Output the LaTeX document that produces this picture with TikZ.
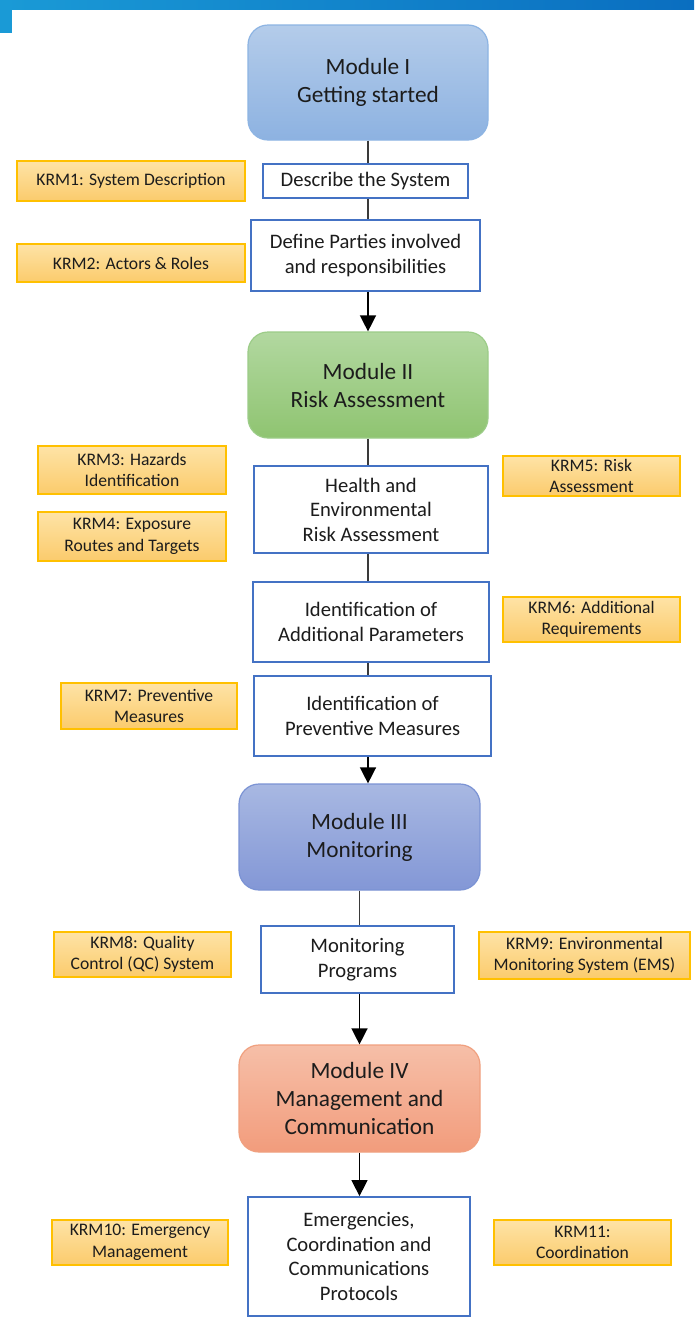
\documentclass[tikz,border=0pt]{standalone}
\usepackage{fontspec}
\setmainfont{Carlito}
\usetikzlibrary{arrows.meta}
\definecolor{barleft}{HTML}{1A9AD6}
\definecolor{barright}{HTML}{0A6EC0}
\definecolor{boxblue}{HTML}{4472C4}
\definecolor{krmedge}{HTML}{FFC000}
\definecolor{krmtop}{HTML}{FEE3A6}
\definecolor{krmbot}{HTML}{FBCB6C}
\definecolor{linkgray}{HTML}{3A3A3A}
\definecolor{inktext}{HTML}{1C1C1C}
\definecolor{mAtop}{HTML}{B4CCEA}
\definecolor{mAbot}{HTML}{8DB2E1}
\definecolor{mAedge}{HTML}{8DB4E3}
\definecolor{mBtop}{HTML}{B2D8A0}
\definecolor{mBbot}{HTML}{8FC471}
\definecolor{mBedge}{HTML}{9CCC88}
\definecolor{mCtop}{HTML}{A8B8E2}
\definecolor{mCbot}{HTML}{8397D6}
\definecolor{mCedge}{HTML}{7B93D4}
\definecolor{mDtop}{HTML}{F6BFA8}
\definecolor{mDbot}{HTML}{F29C7C}
\definecolor{mDedge}{HTML}{F0A07F}
\begin{document}
\begin{tikzpicture}[x=1pt,y=-1pt,
  modbox/.style={rounded corners=20pt, line width=1.2pt, align=center,
    inner sep=0pt, text=inktext, font=\fontsize{23.3}{28}\selectfont},
  stepbox/.style={draw=boxblue, line width=1.8pt, fill=white, align=center,
    inner sep=0pt, text=inktext, font=\fontsize{20.6}{24.5}\selectfont},
  krm/.style={draw=krmedge, line width=1.3pt, top color=krmtop, bottom color=krmbot,
    align=center, inner sep=0pt, text=inktext, font=\fontsize{17.6}{21.5}\selectfont},
  link/.style={draw=linkgray, line width=1.4pt},
  flowarrow/.style={draw=black, line width=1.4pt, -{Triangle[width=16pt,length=16pt]}}]
\useasboundingbox (0,0) rectangle (694,1320);
\fill[white] (0,0) rectangle (694,1320);

% header band
\shade[left color=barleft, right color=barright] (0,0) rectangle (694,9);
\fill[barleft] (0,0) rectangle (12,33);

% modules
\node[modbox, draw=mAedge, top color=mAtop, bottom color=mAbot,
  minimum width=240pt, minimum height=115pt] (M1) at (368,82.5)
  {Module I\\Getting started};
\node[modbox, draw=mBedge, top color=mBtop, bottom color=mBbot,
  minimum width=240pt, minimum height=106pt] (M2) at (368,385)
  {Module II\\Risk Assessment};
\node[modbox, draw=mCedge, top color=mCtop, bottom color=mCbot,
  minimum width=241pt, minimum height=106pt] (M3) at (359.5,837)
  {Module III\\Monitoring};
\node[modbox, draw=mDedge, top color=mDtop, bottom color=mDbot,
  minimum width=241pt, minimum height=107pt] (M4) at (359.5,1098.5)
  {Module IV\\Management and\\Communication};

% steps
\node[stepbox, minimum width=205pt, minimum height=34pt] (desc) at (365.5,181)
  {Describe the System};
\node[stepbox, minimum width=229pt, minimum height=71pt] (parties) at (365.5,255.5)
  {Define Parties involved\\and responsibilities};
\node[stepbox, minimum width=234pt, minimum height=87pt] (health) at (371,509.5)
  {Health and\\Environmental\\Risk Assessment};
\node[stepbox, minimum width=236pt, minimum height=80pt] (addpar) at (371,622)
  {Identification of\\Additional Parameters};
\node[stepbox, minimum width=237pt, minimum height=80pt] (prev) at (372.5,716)
  {Identification of\\Preventive Measures};
\node[stepbox, minimum width=193pt, minimum height=67pt] (monprog) at (357.5,959.5)
  {Monitoring\\Programs};
\node[stepbox, minimum width=222pt, minimum height=119pt] (emerg) at (359,1256.5)
  {Emergencies,\\Coordination and\\Communications\\Protocols};

% key result modules
\node[krm, minimum width=228pt, minimum height=40pt] (k1) at (131,181)
  {KRM1: System Description};
\node[krm, minimum width=228pt, minimum height=38pt] (k2) at (131,263)
  {KRM2: Actors \& Roles};
\node[krm, minimum width=188pt, minimum height=48pt] (k3) at (132,470)
  {KRM3: Hazards\\Identification};
\node[krm, minimum width=188pt, minimum height=49pt] (k4) at (132,536.5)
  {KRM4: Exposure\\Routes and Targets};
\node[krm, minimum width=177pt, minimum height=40pt] (k5) at (591.5,476)
  {KRM5: Risk\\Assessment};
\node[krm, minimum width=177pt, minimum height=45pt] (k6) at (591.5,619.5)
  {KRM6: Additional\\Requirements};
\node[krm, minimum width=176pt, minimum height=46pt] (k7) at (149,706)
  {KRM7: Preventive\\Measures};
\node[krm, minimum width=177pt, minimum height=45pt] (k8) at (142.5,954.5)
  {KRM8: Quality\\Control (QC) System};
\node[krm, minimum width=211pt, minimum height=47pt] (k9) at (584.5,955.5)
  {KRM9: Environmental\\Monitoring System (EMS)};
\node[krm, minimum width=176pt, minimum height=45pt] (k10) at (140,1242.5)
  {KRM10: Emergency\\Management};
\node[krm, minimum width=177pt, minimum height=45pt] (k11) at (582.5,1242.5)
  {KRM11:\\Coordination};

% flow connectors
\draw[link] (M1.south) -- (M1.south |- desc.north);
\draw[link] (desc.south -| M1.south) -- (parties.north -| M1.south);
\draw[flowarrow] (parties.south -| M1.south) -- (M2.north);
\draw[link] (M2.south) -- (M2.south |- health.north);
\draw[link] (health.south -| M2.south) -- (addpar.north -| M2.south);
\draw[link] (addpar.south -| M2.south) -- (prev.north -| M2.south);
\draw[flowarrow] (prev.south -| M2.south) -- (M3.north -| M2.south);
\draw[link] (M3.south) -- (M3.south |- monprog.north);
\draw[flowarrow] (monprog.south -| M3.south) -- (M4.north);
\draw[flowarrow] (M4.south) -- (M4.south |- emerg.north);
\end{tikzpicture}
\end{document}
